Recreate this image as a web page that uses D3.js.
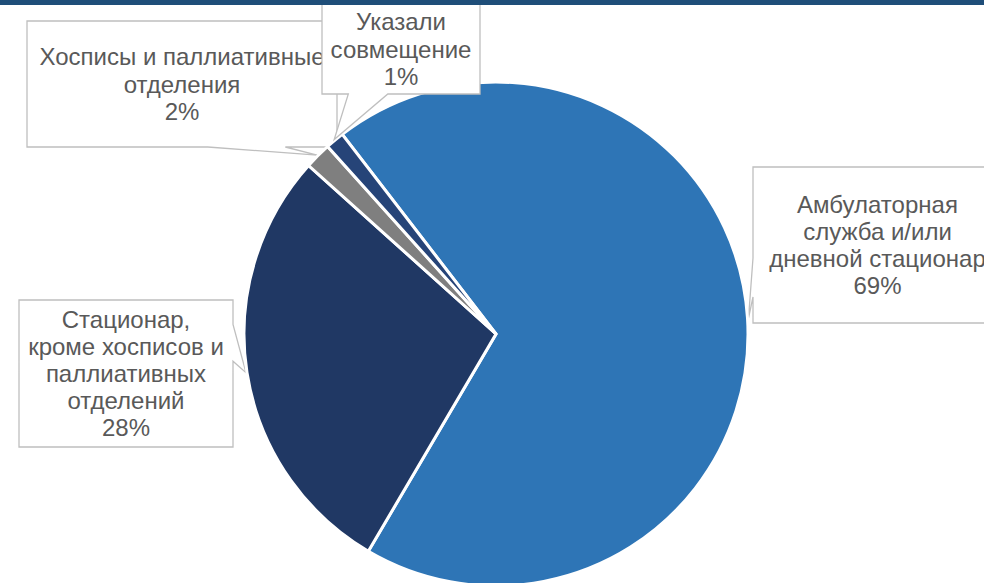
<!DOCTYPE html>
<html>
<head>
<meta charset="utf-8">
<script src="https://cdn.jsdelivr.net/npm/d3@7"></script>
<style>
  html, body { margin: 0; padding: 0; background: #ffffff; }
  svg { display: block; }
</style>
</head>
<body>
<svg id="chart" width="984" height="583"></svg>
<script>
// ---- data ----
const categories = [
  "Амбулаторная служба и/или дневной стационар",
  "Стационар, кроме хосписов и паллиативных отделений",
  "Хосписы и паллиативные отделения",
  "Указали совмещение"
];
const values = [68.9, 28.2, 1.7, 1.2];
const labelLines = [
  ["Амбулаторная", "служба и/или", "дневной стационар"],
  ["Стационар,", "кроме хосписов и", "паллиативных", "отделений"],
  ["Хосписы и паллиативные", "отделения"],
  ["Указали", "совмещение"]
];
const colors = ["#2E75B6", "#203864", "#7F7F7F", "#264478"];

// ---- layout ----
const W = 984, H = 583;
const cx = 496, cy = 334, R = 252;
const startDeg = -37.6;
const labelBoxes = [
  { x: 753, y: 167, w: 249, h: 156 },
  { x: 19,  y: 300, w: 214, h: 147 },
  { x: 27,  y: 21,  w: 310, h: 126 },
  { x: 322, y: 4,   w: 158, h: 90 }
];
const lineH = 27.2;
const fontFamily = "'Liberation Sans', Arial, sans-serif";

const svg = d3.select("#chart");
const total = d3.sum(values);

const pie = d3.pie().sort(null).value(d => d)
  .startAngle(startDeg * Math.PI / 180)
  .endAngle(startDeg * Math.PI / 180 + 2 * Math.PI);
const arcs = pie(values);
const arc = d3.arc().innerRadius(0).outerRadius(R);

function calloutPath(b, tip) {
  const bx = b.x + b.w / 2, by = b.y + b.h / 2;
  const dxn = (tip[0] - bx) / b.w, dyn = (tip[1] - by) / b.h;
  const x0 = b.x, x1 = b.x + b.w, y0 = b.y, y1 = b.y + b.h;
  const p = d3.path();
  p.moveTo(x0, y0);
  p.lineTo(x1, y0);
  const horiz = Math.abs(dxn) > Math.abs(dyn);
  if (horiz && dxn > 0) {
    const a = tip[1] > by ? [7, 10] : [2, 5];
    p.lineTo(x1, y0 + b.h * a[0] / 12);
    p.lineTo(tip[0], tip[1]);
    p.lineTo(x1, y0 + b.h * a[1] / 12);
  }
  p.lineTo(x1, y1);
  if (!horiz && dyn > 0) {
    const a = tip[0] > bx ? [7, 10] : [2, 5];
    p.lineTo(x0 + b.w * a[1] / 12, y1);
    p.lineTo(tip[0], tip[1]);
    p.lineTo(x0 + b.w * a[0] / 12, y1);
  }
  p.lineTo(x0, y1);
  if (horiz && dxn < 0) {
    const a = tip[1] > by ? [7, 10] : [2, 5];
    p.lineTo(x0, y0 + b.h * a[1] / 12);
    p.lineTo(tip[0], tip[1]);
    p.lineTo(x0, y0 + b.h * a[0] / 12);
  }
  p.closePath();
  return p.toString();
}

function drawLabel(i) {
  const a = arcs[i];
  const mid = (a.startAngle + a.endAngle) / 2;
  const t = d3.pointRadial(mid, R + 1);
  const tip = [cx + t[0], cy + t[1]];
  const b = labelBoxes[i];
  const g = svg.append("g").attr("class", "label");
  g.append("path")
    .attr("d", calloutPath(b, tip))
    .attr("fill", "#ffffff")
    .attr("stroke", "#BFBFBF")
    .attr("stroke-width", 1.3);
  const lines = labelLines[i].concat([Math.round(values[i] / total * 100) + "%"]);
  const n = lines.length;
  const tx = b.x + b.w / 2, ty = b.y + b.h / 2;
  g.selectAll("text").data(lines).join("text")
    .attr("x", tx)
    .attr("y", (d, k) => ty + (k - (n - 1) / 2) * lineH + 8.5)
    .attr("text-anchor", "middle")
    .attr("font-family", fontFamily)
    .attr("font-size", 24)
    .attr("fill", "#595959")
    .text(d => d);
}

// labels under the pie
drawLabel(2);
drawLabel(1);
drawLabel(0);

// pie
svg.append("g")
  .attr("transform", `translate(${cx},${cy})`)
  .selectAll("path")
  .data(arcs)
  .join("path")
  .attr("d", arc)
  .attr("fill", (d, i) => colors[i])
  .attr("stroke", "#ffffff")
  .attr("stroke-width", 3)
  .attr("stroke-linejoin", "miter");

// label over the pie
drawLabel(3);

// top bar
svg.append("rect")
  .attr("x", 0).attr("y", 0)
  .attr("width", W).attr("height", 5)
  .attr("fill", "#1F4E79");
</script>
</body>
</html>
